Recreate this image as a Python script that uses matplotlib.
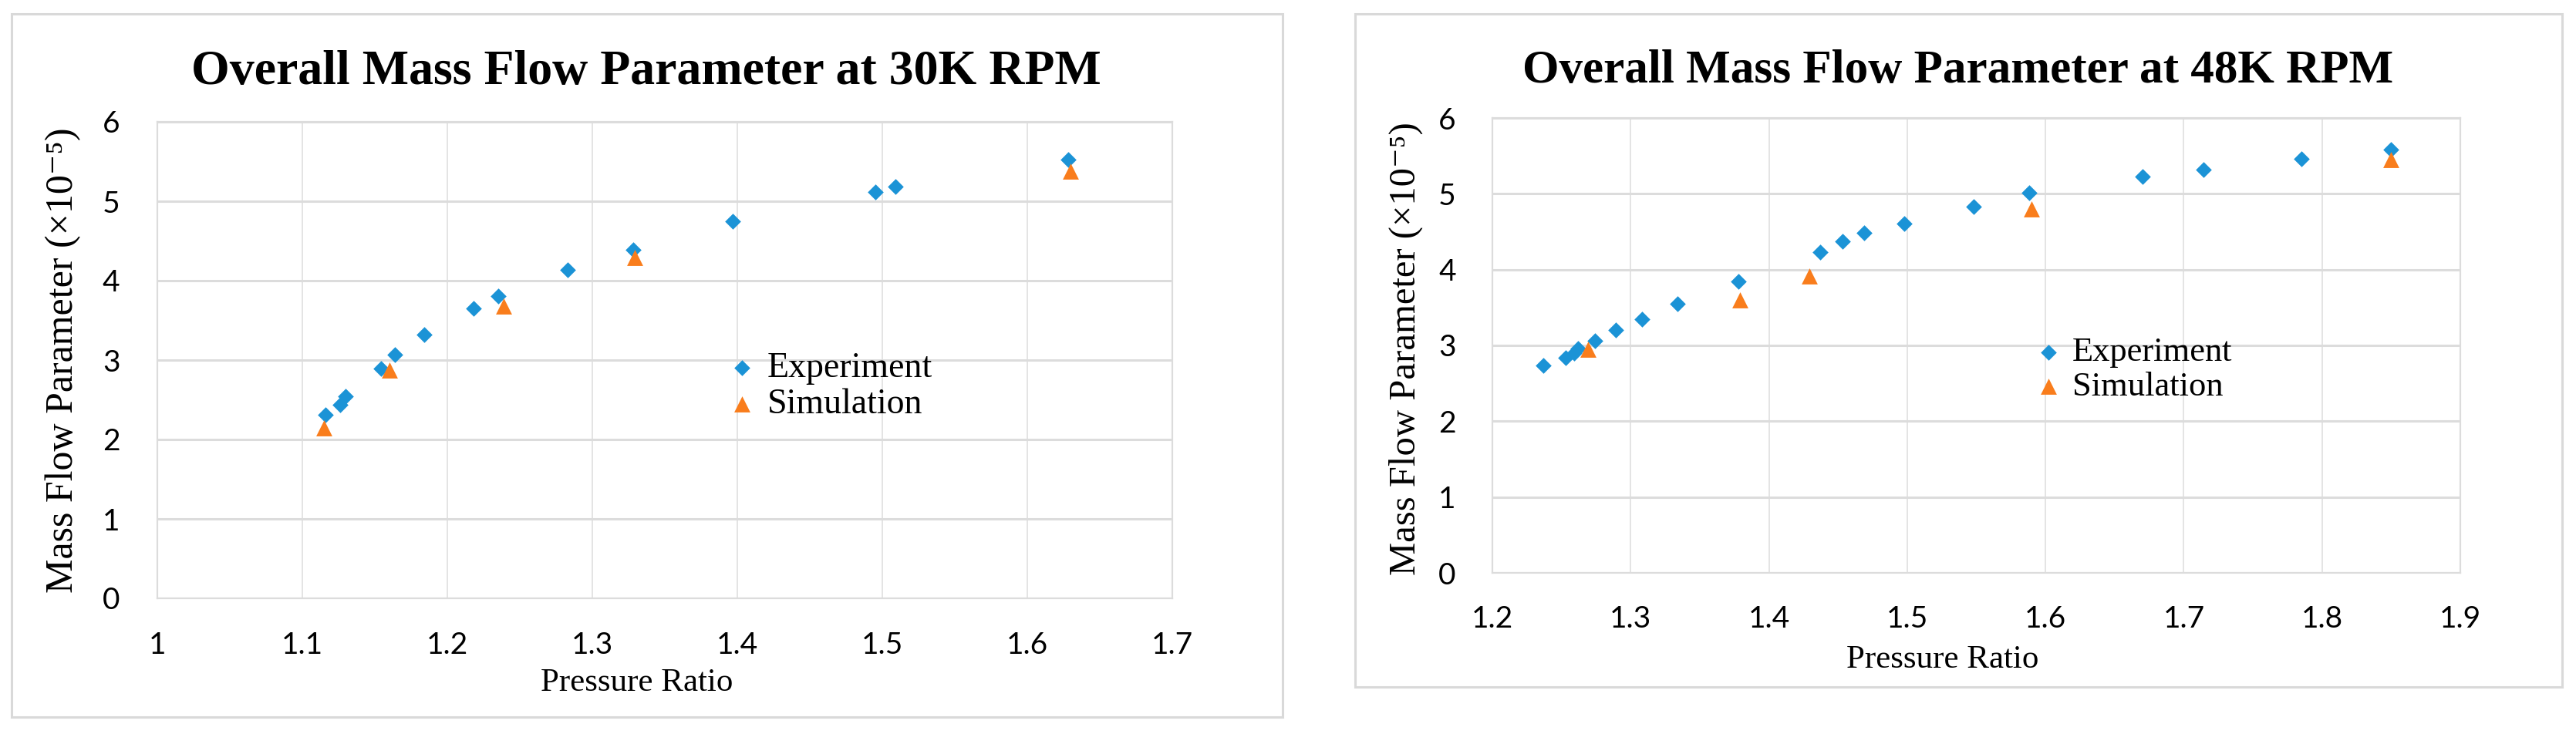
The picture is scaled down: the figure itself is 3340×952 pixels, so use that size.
import matplotlib
matplotlib.use("Agg")
import matplotlib.pyplot as plt
from matplotlib.patches import Rectangle

# 30K RPM data
exp30_x = [1.116, 1.126, 1.130, 1.154, 1.164, 1.184, 1.218, 1.235, 1.283, 1.328, 1.397, 1.495, 1.509, 1.628]
exp30_y = [2.31, 2.44, 2.54, 2.89, 3.07, 3.32, 3.65, 3.81, 4.14, 4.39, 4.75, 5.12, 5.18, 5.52]
sim30_x = [1.115, 1.160, 1.239, 1.329, 1.630]
sim30_y = [2.15, 2.87, 3.68, 4.29, 5.38]

# 48K RPM data
exp48_x = [1.237, 1.253, 1.259, 1.262, 1.274, 1.289, 1.308, 1.334, 1.378, 1.437, 1.453, 1.469, 1.498,
           1.548, 1.588, 1.670, 1.714, 1.785, 1.850]
exp48_y = [2.74, 2.84, 2.90, 2.96, 3.06, 3.20, 3.35, 3.55, 3.84, 4.23, 4.37, 4.48, 4.61,
           4.83, 5.01, 5.23, 5.32, 5.46, 5.58]
sim48_x = [1.269, 1.379, 1.429, 1.590, 1.850]
sim48_y = [2.95, 3.60, 3.92, 4.80, 5.45]

x_ticks_30 = [1.0, 1.1, 1.2, 1.3, 1.4, 1.5, 1.6, 1.7]
x_labels_30 = ["1", "1.1", "1.2", "1.3", "1.4", "1.5", "1.6", "1.7"]
x_ticks_48 = [1.2, 1.3, 1.4, 1.5, 1.6, 1.7, 1.8, 1.9]
x_labels_48 = ["1.2", "1.3", "1.4", "1.5", "1.6", "1.7", "1.8", "1.9"]
y_ticks = [0, 1, 2, 3, 4, 5, 6]

BLUE = "#1b93d6"
ORANGE = "#f97d1c"
GRID = "#dcdcdc"
SERIF = ["Liberation Serif", "DejaVu Serif"]
W, H = 3341, 952

fig = plt.figure(figsize=(W / 100, H / 100), dpi=100)
fig.patch.set_facecolor("white")

# outer chart frames (in pixel coords converted to figure fraction)
for x0, y0, x1, y1 in [(15, 18, 1663, 930), (1757, 18, 3322, 891)]:
    fig.patches.append(Rectangle((x0 / W, 1 - y1 / H), (x1 - x0) / W, (y1 - y0) / H,
                                 transform=fig.transFigure, fill=False,
                                 edgecolor="#d9d9d9", linewidth=2.2))


def make_panel(rect, ex, ey, sx, sy, xticks, xlabels, xlim, title, title_pos, title_size,
               xlabel_pos, ylabel_pos, ylabel_size, leg_anchor, leg_size, ypad, xpad):
    ax = fig.add_axes(rect)
    ax.scatter(ex, ey, marker="D", s=10.5 ** 2, color=BLUE, linewidths=0, zorder=3, label="Experiment")
    ax.scatter(sx, sy, marker="^", s=15 ** 2, color=ORANGE, linewidths=0, zorder=4, label="Simulation")
    ax.set_xlim(*xlim)
    ax.set_ylim(0, 6)
    ax.set_xticks(xticks)
    ax.set_xticklabels(xlabels)
    ax.set_yticks(y_ticks)
    ax.grid(axis="y", color=GRID, linewidth=2.2, zorder=0)
    ax.grid(axis="x", color="#e4e4e4", linewidth=1.4, zorder=0)
    ax.set_axisbelow(True)
    for sp in ax.spines.values():
        sp.set_color(GRID)
        sp.set_linewidth(1.6)
    ax.tick_params(axis="both", length=0, labelsize=28, colors="black")
    ax.tick_params(axis="y", pad=ypad)
    ax.tick_params(axis="x", pad=xpad)
    for lab in ax.get_xticklabels() + ax.get_yticklabels():
        lab.set_family(["Lato", "DejaVu Sans"])

    fig.text(title_pos[0] / W, 1 - title_pos[1] / H, title, ha="center", va="center",
             fontsize=title_size, fontweight="bold", family=SERIF)
    fig.text(xlabel_pos[0] / W, 1 - xlabel_pos[1] / H, "Pressure Ratio", ha="center", va="center",
             fontsize=31, family=SERIF)
    fig.text(ylabel_pos[0] / W, 1 - ylabel_pos[1] / H, "Mass Flow Parameter (\u00d710\u207b\u2075)",
             ha="center", va="center", rotation=90, fontsize=ylabel_size, family=SERIF)

    ax.legend(loc="center left", bbox_to_anchor=leg_anchor, frameon=False,
              prop={"family": SERIF, "size": leg_size}, borderpad=0, borderaxespad=0,
              handlelength=0.8, handletextpad=0.3, labelspacing=0.1, scatterpoints=1)
    return ax


# 30K RPM panel
make_panel([204 / W, 1 - 776 / H, 1316 / W, 618 / H], exp30_x, exp30_y, sim30_x, sim30_y,
           x_ticks_30, x_labels_30, (1.0, 1.7), "Overall Mass Flow Parameter at 30K RPM",
           (838, 94), 46, (826, 886), (82, 467), 36, (0.5623, 0.445), 33, 35, 31)

# 48K RPM panel
make_panel([1935 / W, 1 - 743 / H, 1255 / W, 590 / H], exp48_x, exp48_y, sim48_x, sim48_y,
           x_ticks_48, x_labels_48, (1.2, 1.9), "Overall Mass Flow Parameter at 48K RPM",
           (2539, 92), 44, (2519, 856), (1823, 452), 35, (0.560, 0.4466), 32, 34, 30)

fig.savefig("out.png", dpi=100, facecolor="white")
